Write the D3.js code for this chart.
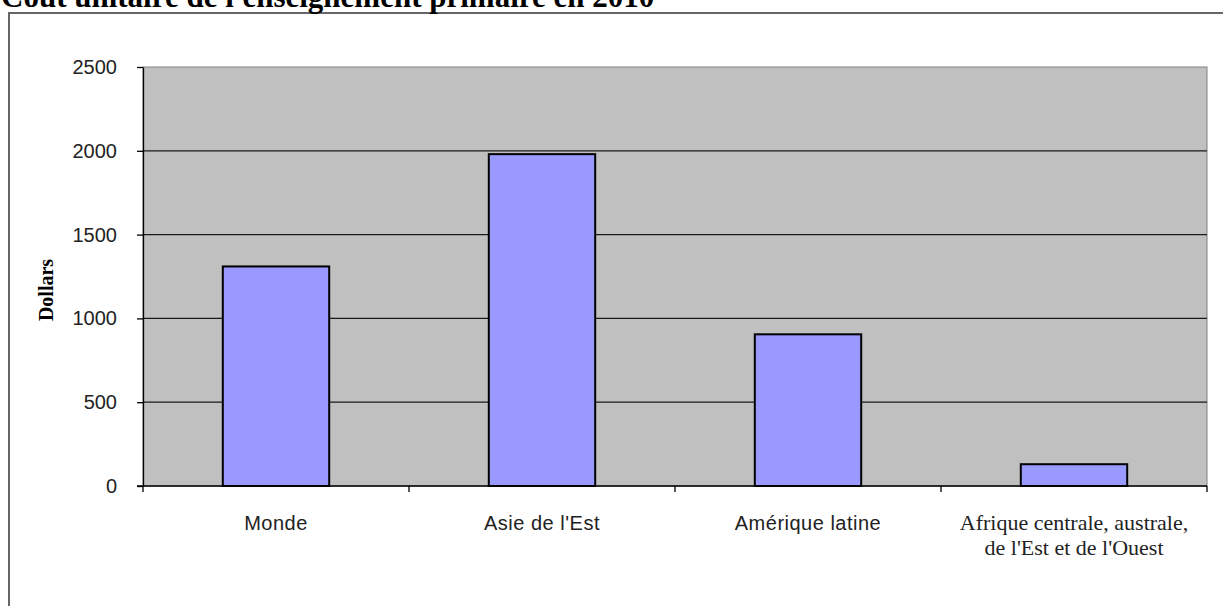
<!DOCTYPE html>
<html>
<head>
<meta charset="utf-8">
<script src="https://cdn.jsdelivr.net/npm/d3@7"></script>
<style>
  html, body { margin: 0; padding: 0; background: #fff; }
  svg { display: block; }
</style>
</head>
<body>
<svg id="chart" width="1223" height="606"></svg>
<script>
// Unit cost of primary education, 2010 (US dollars)
const categories = ["Monde", "Asie de l'Est", "Amérique latine", "Afrique centrale, australe, de l'Est et de l'Ouest"];
const values = [1310, 1980, 905, 130];
const yTicks = [0, 500, 1000, 1500, 2000, 2500];

const svg = d3.select("#chart");
const W = 1223, H = 606;
const plot = { left: 143, right: 1207, top: 67, bottom: 486 };
const SANS = "'Liberation Sans', Arial, sans-serif";
const SERIF = "'Liberation Serif', 'Times New Roman', serif";

// Outer chart frame (extends beyond the right edge)
svg.append("rect")
  .attr("x", 9).attr("y", 13)
  .attr("width", W + 20).attr("height", H + 20)
  .attr("fill", "#fff").attr("stroke", "#666").attr("stroke-width", 2);

// Title
svg.append("text")
  .attr("x", 1).attr("y", 7)
  .attr("font-family", SERIF)
  .attr("font-weight", "bold").attr("font-size", 31)
  .attr("fill", "#000")
  .text("Coût unitaire de l'enseignement primaire en 2010");

const x = d3.scaleBand().domain(categories).range([plot.left, plot.right]).paddingInner(0.6).paddingOuter(0.3);
const xBand = d3.scaleBand().domain(categories).range([plot.left, plot.right]);
const y = d3.scaleLinear().domain([0, 2500]).range([plot.bottom, plot.top]);

// Plot area background
svg.append("rect")
  .attr("x", plot.left).attr("y", plot.top)
  .attr("width", plot.right - plot.left).attr("height", plot.bottom - plot.top)
  .attr("fill", "#c0c0c0").attr("stroke", "#808080").attr("stroke-width", 1);

// Horizontal gridlines
svg.append("g").selectAll("line")
  .data(yTicks.filter(d => d > 0 && d < 2500))
  .join("line")
  .attr("x1", plot.left).attr("x2", plot.right)
  .attr("y1", d => y(d)).attr("y2", d => y(d))
  .attr("stroke", "#1a1a1a").attr("stroke-width", 1.3);

// Bars
svg.append("g").selectAll("rect")
  .data(categories)
  .join("rect")
  .attr("x", d => x(d))
  .attr("y", (d, i) => y(values[i]))
  .attr("width", x.bandwidth())
  .attr("height", (d, i) => y(0) - y(values[i]))
  .attr("fill", "#9999ff").attr("stroke", "#000").attr("stroke-width", 2);

// Y axis
const yAxis = d3.axisLeft(y).tickValues(yTicks).tickFormat(d3.format("d"))
  .tickSize(6).tickSizeOuter(0).tickPadding(20);
const gy = svg.append("g").attr("transform", `translate(${plot.left},0)`).call(yAxis);
gy.select(".domain").attr("stroke", "#000").attr("stroke-width", 1.3);
gy.selectAll(".tick line").attr("stroke", "#000").attr("stroke-width", 1.3);
gy.selectAll(".tick text")
  .attr("font-family", SANS)
  .attr("font-size", 20).attr("fill", "#222");

// X axis baseline with ticks at band boundaries
svg.append("line")
  .attr("x1", plot.left - 6).attr("x2", plot.right)
  .attr("y1", plot.bottom).attr("y2", plot.bottom)
  .attr("stroke", "#000").attr("stroke-width", 1.3);
const bounds = categories.map(c => xBand(c)).concat([plot.right]);
svg.append("g").selectAll("line")
  .data(bounds)
  .join("line")
  .attr("x1", d => d).attr("x2", d => d)
  .attr("y1", plot.bottom).attr("y2", plot.bottom + 6)
  .attr("stroke", "#000").attr("stroke-width", 1.3);

// Category labels
const labelLines = [["Monde"], ["Asie de l'Est"], ["Amérique latine"], ["Afrique centrale, australe,", "de l'Est et de l'Ouest"]];
categories.forEach((c, i) => {
  const serif = i === 3;
  const t = svg.append("text")
    .attr("text-anchor", "middle")
    .attr("font-family", serif ? SERIF : SANS)
    .attr("font-size", serif ? 22 : 20)
    .attr("letter-spacing", serif ? 0 : 0.5)
    .attr("fill", "#222");
  labelLines[i].forEach((line, j) => {
    t.append("tspan")
      .attr("x", xBand(c) + xBand.bandwidth() / 2)
      .attr("y", 530 + j * 25)
      .text(line);
  });
});

// Y axis title
svg.append("text")
  .attr("transform", `translate(53,290) rotate(-90)`)
  .attr("text-anchor", "middle")
  .attr("font-family", SERIF)
  .attr("font-weight", "bold").attr("font-size", 20)
  .attr("fill", "#000")
  .text("Dollars");
</script>
</body>
</html>
